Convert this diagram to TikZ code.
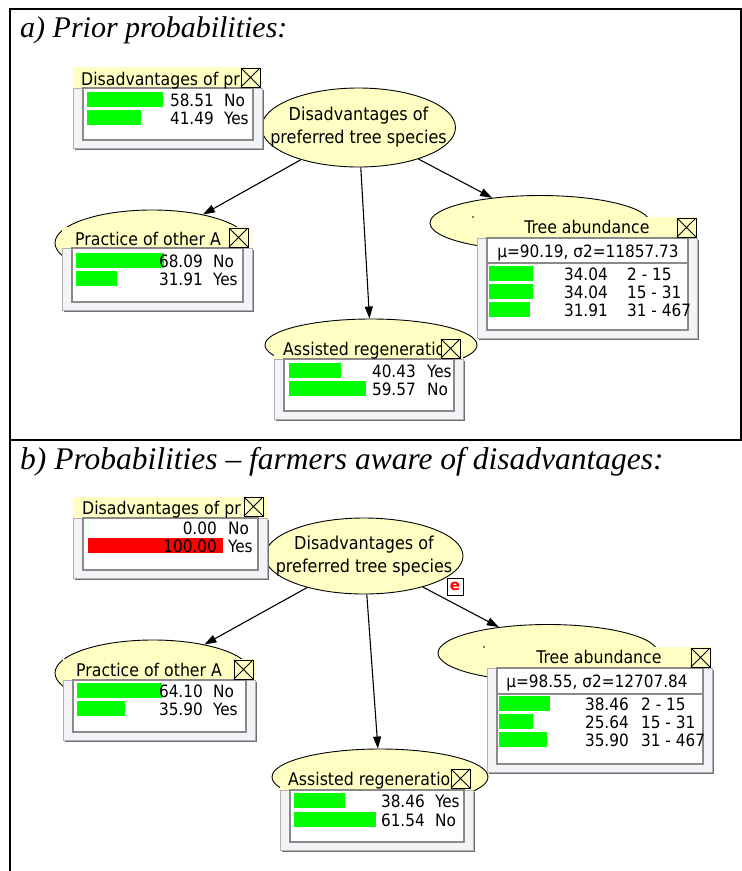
\documentclass[tikz,border=0pt]{standalone}
\usepackage{fontspec}
\setmainfont{Liberation Serif}
\newfontfamily\uifont{DejaVu Sans Condensed}
\newfontfamily\uibold{DejaVu Sans Bold}
\usetikzlibrary{shapes.geometric,arrows.meta}

\definecolor{nodeyellow}{RGB}{255,255,196}
\definecolor{bargreen}{RGB}{0,255,0}
\definecolor{barred}{RGB}{255,0,0}
\definecolor{panelfill}{RGB}{244,244,248}
\definecolor{paneledge}{RGB}{176,176,184}
\definecolor{panelshade}{RGB}{110,110,110}
\definecolor{inneredge}{RGB}{138,138,138}

\tikzset{
  bnnode/.style={ellipse, draw=black, line width=0.9pt, fill=nodeyellow, inner sep=0pt},
  bnlabel/.style={inner sep=0pt, align=center, font=\uifont\fontsize{17.8}{23}\selectfont},
  link/.style={line width=1.1pt, -{Triangle[length=12pt,width=8pt]}},
  montitle/.style={font=\uifont\fontsize{17.5}{17.5}\selectfont, inner sep=0pt},
  monnum/.style={font=\uifont\fontsize{17}{17}\selectfont, inner sep=0pt},
  paneltitle/.style={font=\itshape\fontsize{30}{30}\selectfont, inner sep=0pt, anchor=base west},
  frame/.style={line width=1.4pt, black},
}

% monitor window: #1 x0, #2 title top, #3 x1, #4 outer bottom
\newcommand{\bnmonitor}[4]{%
  \fill[panelshade] (#1+2,#2+23) rectangle (#3+2,#4+2);
  \filldraw[fill=panelfill, draw=paneledge, line width=0.8pt] (#1,#2+21) rectangle (#3,#4);
  \fill[nodeyellow] (#1,#2) rectangle (#3,#2+21);
  \filldraw[fill=white, draw=inneredge, line width=1.3pt] (#1+10,#2+21) rectangle (#3-9,#4-8);
}
% close box with a cross, top-left corner given
\newcommand{\bnclose}[2]{%
  \filldraw[fill=nodeyellow, draw=black, line width=0.8pt] (#1,#2) rectangle ++(19,19);
  \draw[line width=0.8pt] (#1,#2) -- ++(19,19) (#1+19,#2) -- ++(-19,19);
}
% one state row: #1 name, #2 bar x, #3 row top, #4 bar length, #5 bar colour,
% #6 right edge of value, #7 state x, #8 value, #9 state
\newcommand{\bnrow}[9]{%
  \fill[#5] (#2,#3) rectangle ++(#4,15);
  \node[monnum, anchor=base east] (#1v) at (#6,#3+14.5) {#8};
  \node[monnum, anchor=base west] (#1s) at (#7,#3+14.5) {#9};
}

\begin{document}
\begin{tikzpicture}[x=1pt,y=-1pt]
\useasboundingbox (0,0) rectangle (742,871);
\fill[white] (0,0) rectangle (742,871);

% frame of the two panels
\draw[frame] (10,871) -- (10,9) -- (741,9) -- (741,440);
\draw[frame] (10,440) -- (742,440);

\node[paneltitle] (titleA) at (20,37.5) {a) Prior probabilities:};
\node[paneltitle, font=\itshape\fontsize{31.5}{31.5}\selectfont] (titleB) at (20,469) {b) Probabilities – farmers aware of disadvantages:};

% ---------------- panel a ----------------
\node[bnnode, minimum width=194pt, minimum height=79pt] (disA) at (358.5,127.5) {};
\node[bnlabel] (disAtext) at (disA.center) {Disadvantages of\\preferred tree species};
\node[bnnode, minimum width=194pt, minimum height=66pt] (pracA) at (152,243) {};
\node[bnnode, minimum width=220pt, minimum height=55pt] (treeA) at (540,223) {};
\node[bnnode, minimum width=212pt, minimum height=52pt] (assA) at (371,345) {};
\fill (473,217) circle (0.8);

\draw[link] (disA) -- (pracA);
\draw[link] (disA) -- (assA);
\draw[link] (disA) -- (treeA);

% Disadvantages monitor
\bnmonitor{73}{67}{262}{148}
\node[montitle, anchor=base west] (monDisA) at (81,85) {Disadvantages of pr};
\bnclose{241}{68}
\bnrow{dA1}{87}{92}{76}{bargreen}{214}{224}{58.51}{No}
\bnrow{dA2}{87}{110}{54}{bargreen}{214}{224}{41.49}{Yes}

% Practice monitor
\bnmonitor{62}{227}{252}{310}
\node[montitle, anchor=base west] (monPracA) at (75,245) {Practice of other A};
\bnclose{229}{228}
\bnrow{pA1}{76}{253}{88}{bargreen}{203}{213}{68.09}{No}
\bnrow{pA2}{76}{271}{41}{bargreen}{203}{213}{31.91}{Yes}

% Assisted regeneration monitor
\bnmonitor{274}{338}{463}{419}
\node[montitle, anchor=base west] (monAssA) at (283,355) {Assisted regeneratio};
\bnclose{441}{339}
\bnrow{aA1}{289}{363}{52}{bargreen}{416}{427}{40.43}{Yes}
\bnrow{aA2}{289}{381}{77}{bargreen}{416}{427}{59.57}{No}

% Tree abundance monitor
\bnmonitor{477}{217}{697}{338}
\node[montitle, anchor=base] (monTreeA) at (587,233) {Tree abundance};
\bnclose{677}{218}
\node[monnum, anchor=base] (meanA) at (588,257) {μ=90.19, σ2=11857.73};
\draw[inneredge, line width=1.2pt] (487,263) -- (688,263);
\bnrow{tA1}{489}{266}{44}{bargreen}{608}{627}{34.04}{2 - 15}
\bnrow{tA2}{489}{284}{44}{bargreen}{608}{627}{34.04}{15 - 31}
\bnrow{tA3}{489}{302}{41}{bargreen}{608}{627}{31.91}{31 - 467}

% ---------------- panel b ----------------
\node[bnnode, minimum width=198pt, minimum height=76pt] (disB) at (364,556) {};
\node[bnlabel] (disBtext) at (disB.center) {Disadvantages of\\preferred tree species};
\node[bnnode, minimum width=196pt, minimum height=66pt] (pracB) at (153,673) {};
\node[bnnode, minimum width=220pt, minimum height=57pt] (treeB) at (548,653) {};
\node[bnnode, minimum width=216pt, minimum height=56pt] (assB) at (380,777) {};
\fill (484,647) circle (0.8);

\draw[link] (disB) -- (pracB);
\draw[link] (disB) -- (assB);
\draw[link] (disB) -- (treeB);

% evidence marker
\node[draw=black, fill=white, line width=0.8pt, minimum width=16pt, minimum height=17pt, inner sep=0pt,
  font=\uibold\fontsize{15}{15}\selectfont, text=barred] (evid) at (455,586.5) {e};

% Disadvantages monitor
\bnmonitor{73}{497}{267}{578}
\node[montitle, anchor=base west] (monDisB) at (82,514) {Disadvantages of pr};
\bnclose{244}{497}
\bnrow{dB1}{88}{520}{0}{bargreen}{217}{228}{0.00}{No}
\bnrow{dB2}{88}{538}{135}{barred}{217}{228}{100.00}{Yes}

% Practice monitor
\bnmonitor{63}{659}{255}{740}
\node[montitle, anchor=base west] (monPracB) at (76,676) {Practice of other A};
\bnclose{234}{660}
\bnrow{pB1}{77}{683}{85}{bargreen}{203}{213}{64.10}{No}
\bnrow{pB2}{77}{701}{48}{bargreen}{203}{213}{35.90}{Yes}

% Assisted regeneration monitor
\bnmonitor{280}{769}{473}{850}
\node[montitle, anchor=base west] (monAssB) at (288,785) {Assisted regeneratio};
\bnclose{451}{769}
\bnrow{aB1}{294}{793}{51}{bargreen}{425}{435}{38.46}{Yes}
\bnrow{aB2}{294}{812}{82}{bargreen}{425}{435}{61.54}{No}

% Tree abundance monitor
\bnmonitor{487}{647}{712}{772}
\node[montitle, anchor=base] (monTreeB) at (599,663) {Tree abundance};
\bnclose{691}{648}
\node[monnum, anchor=base] (meanB) at (597,687) {μ=98.55, σ2=12707.84};
\draw[inneredge, line width=1.2pt] (497,694) -- (703,694);
\bnrow{tB1}{499}{696}{51}{bargreen}{629}{641}{38.46}{2 - 15}
\bnrow{tB2}{499}{714}{34}{bargreen}{629}{641}{25.64}{15 - 31}
\bnrow{tB3}{499}{732}{48}{bargreen}{629}{641}{35.90}{31 - 467}
\end{tikzpicture}
\end{document}
